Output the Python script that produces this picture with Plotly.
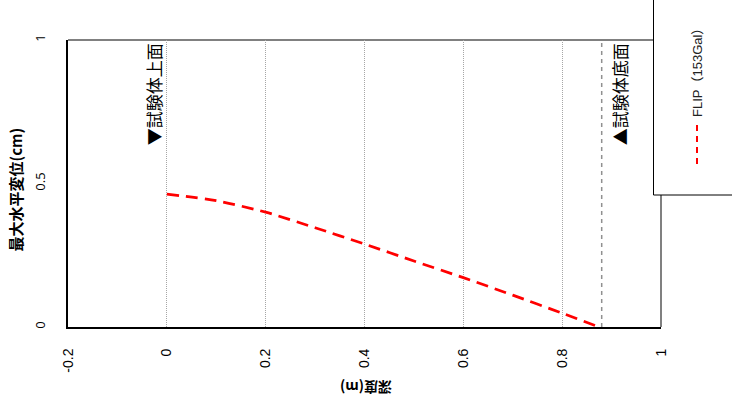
import plotly.graph_objects as go

# Data
depth = [0.0, 0.1, 0.2, 0.3, 0.4, 0.5, 0.6, 0.7, 0.8, 0.868]
disp = [0.463, 0.44, 0.40, 0.346, 0.289, 0.23, 0.172, 0.111, 0.048, 0.004]
series_name = "FLIP（153Gal）"
top_depth = 0.0
bottom_depth = 0.88
top_label = "▼試験体上面"
bottom_label = "▲試験体底面"
x_ticks = [-0.2, 0, 0.2, 0.4, 0.6, 0.8, 1]
x_ticktext = ["-0.2", "0", "0.2", "0.4", "0.6", "0.8", "1"]
y_ticks = [0, 0.5, 1]
y_ticktext = ["0", "0.5", "1"]
x_title = "深度(m)"
y_title = "最大水平変位(cm)"

W, H = 732, 412
L, R, T, B = 68, 661, 40, 327
pw, ph = R - L, B - T

def px(x):
    return (x - L) / pw

def py(y):
    return (B - y) / ph

JP = "Noto Sans CJK JP"
SANS = "Liberation Sans"

fig = go.Figure()
fig.add_trace(go.Scatter(
    x=depth, y=disp, mode="lines", name=series_name,
    line=dict(color="#FF0000", width=2.75, dash="12px,7px", shape="spline", smoothing=0.8),
    showlegend=False,
))

fig.update_layout(
    width=W, height=H,
    margin=dict(l=L, r=W - R, t=T, b=H - B),
    paper_bgcolor="white", plot_bgcolor="white",
    showlegend=False,
    xaxis=dict(
        range=[-0.2, 1], tickvals=x_ticks, ticktext=x_ticktext,
        tickangle=-90, ticks="", ticklabelstandoff=14,
        showgrid=True, gridcolor="#A6A6A6", gridwidth=1, griddash="1px,1px",
        showline=True, linecolor="black", linewidth=2, zeroline=False,
        tickfont=dict(family=SANS, size=14, color="black"),
    ),
    yaxis=dict(
        range=[0, 1], tickvals=y_ticks, ticktext=y_ticktext,
        tickangle=-90, ticks="", ticklabelstandoff=16,
        showgrid=False, zeroline=False,
        showline=True, linecolor="black", linewidth=2,
        tickfont=dict(family="Open Sans", size=13, color="black"),
    ),
)

shapes = [
    # gray top/right border of plot area
    dict(type="line", xref="paper", yref="paper", x0=0, x1=1, y0=1, y1=1,
         line=dict(color="#808080", width=2), layer="below"),
    dict(type="line", xref="paper", yref="paper", x0=1, x1=1, y0=0, y1=1,
         line=dict(color="#808080", width=2), layer="below"),
    # bottom reference line
    dict(type="line", xref="x", yref="paper", x0=bottom_depth, x1=bottom_depth, y0=0, y1=1,
         line=dict(color="#909090", width=1.5, dash="4px,4px")),
    # legend box
    dict(type="rect", xref="paper", yref="paper", x0=px(653.5), x1=px(740), y0=py(195), y1=py(-2),
         line=dict(color="black", width=1), fillcolor="white"),
    dict(type="line", xref="paper", yref="paper", x0=px(697), x1=px(697), y0=py(125), y1=py(166),
         line=dict(color="#FF0000", width=2, dash="6px,5px")),
]
fig.update_layout(shapes=shapes)

annotations = [
    dict(text=top_label, x=top_depth, xref="x", y=1, yref="paper", xanchor="right", yanchor="top",
         xshift=1, yshift=-1, textangle=-90, showarrow=False,
         font=dict(family=JP, size=17, color="black")),
    dict(text=bottom_label, x=bottom_depth, xref="x", y=1, yref="paper", xanchor="left", yanchor="top",
         xshift=3, yshift=-1, textangle=-90, showarrow=False,
         font=dict(family=JP, size=17, color="black")),
    dict(text="<b>" + y_title + "</b>", x=0, xref="paper", y=0.5, yref="paper",
         xanchor="center", yanchor="middle",
         xshift=15 - L, yshift=-6, textangle=-90, showarrow=False,
         font=dict(family=JP, size=15, color="black")),
    dict(text="<b>" + x_title + "</b>", x=0.5, xref="paper", y=0, yref="paper",
         xanchor="center", yanchor="middle",
         yshift=-(388 - B), xshift=2, textangle=180, showarrow=False,
         font=dict(family=JP, size=14, color="black")),
    dict(text=series_name, x=px(697), xref="paper", y=py(70), yref="paper",
         xanchor="center", yanchor="middle",
         textangle=-90, showarrow=False,
         font=dict(family=SANS + ", " + JP, size=13, color="#222222")),
]
fig.update_layout(annotations=annotations)

fig.write_html(
    "out.html",
    config={"displayModeBar": False},
    post_script="document.body.style.margin='0';document.body.style.overflow='hidden';",
)
